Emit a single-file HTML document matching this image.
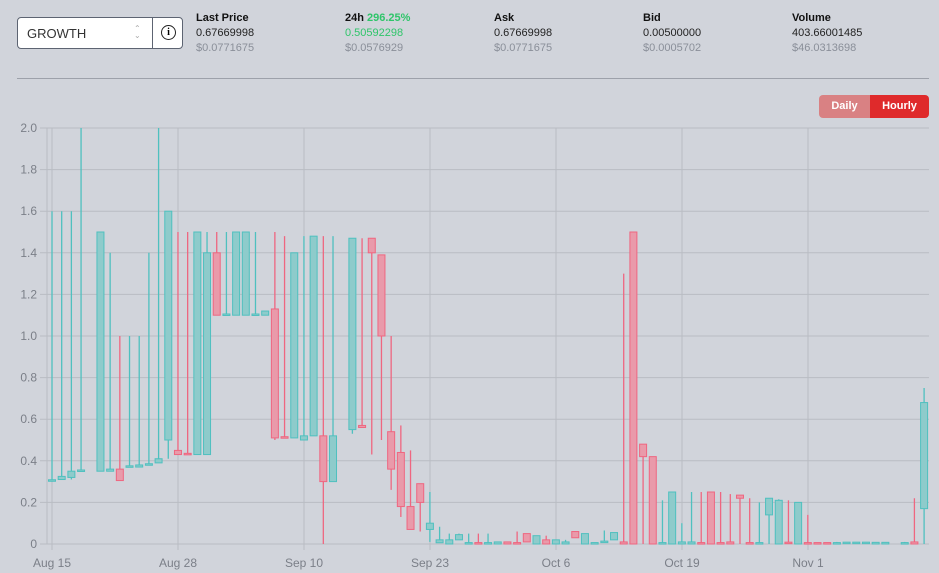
<!DOCTYPE html>
<html><head><meta charset="utf-8"><style>
body{margin:0;width:939px;height:573px;background:#d1d4db;font-family:"Liberation Sans",sans-serif;position:relative;overflow:hidden}
.sel{position:absolute;left:17px;top:17px;width:164px;height:30px;background:#fff;border:1px solid #5d6472;border-radius:4px}
.sel .t{position:absolute;left:9px;top:8px;font-size:13px;color:#333}
.sel .d{position:absolute;left:134px;top:0;width:1px;height:30px;background:#5d6472}
.sel .i{position:absolute;left:143px;top:7px;width:13px;height:13px;border:1.5px solid #222;border-radius:50%;font-size:10px;font-weight:bold;text-align:center;line-height:13px;font-family:"Liberation Serif",serif}
.sel .a{position:absolute;left:116px;top:7px;font-size:8px;color:#aaa;line-height:7px}
.st{position:absolute;top:11px;font-size:11px;line-height:15px}
.st b{color:#111}.st .v{color:#222}.st .g{color:#8a8f99}
.hr{position:absolute;left:17px;top:78px;width:912px;height:1px;background:#9da1aa}
.btn{position:absolute;top:95px;height:23px;color:#fff;font-size:11px;font-weight:bold;line-height:23px;text-align:center}
</style></head><body>
<div class="sel"><span class="t">GROWTH</span><span class="a">⌃<br>⌄</span><div class="d"></div><div class="i">i</div></div>
<div class="st" style="left:196px"><b>Last Price</b><br><span class="v">0.67669998</span><br><span class="g">$0.0771675</span></div>
<div class="st" style="left:345px"><b>24h <span style="color:#2fc56a">296.25%</span></b><br><span style="color:#2fc56a">0.50592298</span><br><span class="g">$0.0576929</span></div>
<div class="st" style="left:494px"><b>Ask</b><br><span class="v">0.67669998</span><br><span class="g">$0.0771675</span></div>
<div class="st" style="left:643px"><b>Bid</b><br><span class="v">0.00500000</span><br><span class="g">$0.0005702</span></div>
<div class="st" style="left:792px"><b>Volume</b><br><span class="v">403.66001485</span><br><span class="g">$46.0313698</span></div>
<div class="hr"></div>
<div class="btn" style="left:819px;width:51px;background:#d98183;border-radius:4px 0 0 4px">Daily</div>
<div class="btn" style="left:870px;width:59px;background:#df2a2b;border-radius:0 4px 4px 0">Hourly</div>
<svg id="c" width="939" height="573" style="position:absolute;left:0;top:0"></svg>
<script>
var d=[[.3,.305,1.6,.3],[.31,.325,1.6,.31],[.32,.35,1.6,.31],[.35,.352,2,.35],null,[.35,1.5,1.5,.35],[.35,.36,1.4,.35],[.36,.305,1,.305],[.37,.372,1,.37],[.37,.38,1,.37],[.38,.382,1.4,.38],[.39,.41,2,.39],[.5,1.6,1.6,.41],[.45,.43,1.5,.43],[.432,.43,1.5,.43],[.43,1.5,1.5,.43],[.43,1.4,1.5,.43],[1.4,1.1,1.5,1.1],[1.1,1.102,1.5,1.1],[1.1,1.5,1.5,1.1],[1.1,1.5,1.5,1.1],[1.1,1.102,1.5,1.1],[1.1,1.12,1.12,1.1],[1.13,.51,1.5,.5],[.512,.51,1.48,.51],[.51,1.4,1.4,.51],[.5,.52,1.48,.5],[.52,1.48,1.48,.52],[.52,.3,1.48,0],[.3,.52,1.48,.3],null,[.55,1.47,1.47,.53],[.57,.56,1.47,.56],[1.47,1.4,1.47,.43],[1.39,1,1.39,.5],[.54,.36,1,.26],[.44,.18,.57,.13],[.18,.07,.45,.07],[.29,.2,.29,.06],[.07,.1,.25,.01],
[.006,.02,.083,.006],[0,.02,.05,0],[.02,.045,.05,.02],[0,.003,.05,0],[.003,0,.05,0],[0,.003,.05,0],[0,.01,.01,0],[.01,0,.01,0],[.003,0,.06,0],[.05,.01,.05,.01],[0,.04,.04,0],[.02,0,.04,0],[0,.02,.02,0],[0,.01,.02,0],[.06,.03,.06,.03],[0,.05,.05,0],[0,.003,.003,0],[.005,.01,.065,.005],[.02,.055,.055,.02],[.01,0,1.3,0],[1.5,0,1.5,0],[.48,.42,.48,0],[.42,0,.42,0],[0,.003,.21,0],[0,.25,.25,0],[0,.01,.1,0],[0,.01,.25,0],[.003,0,.25,0],[.25,0,.25,0],[.003,0,.25,0],[.01,0,.24,0],[.235,.22,.235,0],[.003,0,.22,0],[0,.003,.2,0],[.14,.22,.22,0],[0,.21,.215,0],[.005,0,.21,0],[0,.2,.2,0],[.003,0,.14,0],[.003,0,.003,0],[.003,0,.003,0],[0,.003,.01,0],[0,.005,.005,0],[0,.005,.005,0],[0,.005,.005,0],[0,.008,.008,0],[0,.008,.008,0],null,[0,.003,.01,0],[.01,0,.22,0],[.17,.68,.75,0]];
var s='',Y=function(p){return 544-p*208};
for(var k=0;k<=10;k++){var y=Y(k*.2);s+='<line x1="40" x2="929" y1="'+y+'" y2="'+y+'" stroke="#b9bcc3" stroke-width="1"/>';
s+='<text x="37" y="'+(y+4)+'" text-anchor="end" font-size="12" fill="#7b7f88" font-family="Liberation Sans">'+(k==0?'0':(k*.2).toFixed(1))+'</text>';}
var L=['Aug 15','Aug 28','Sep 10','Sep 23','Oct 6','Oct 19','Nov 1'];
for(var k=0;k<7;k++){var x=52+126*k;s+='<line x1="'+x+'" x2="'+x+'" y1="128" y2="550" stroke="#b9bcc3"/>';
s+='<text x="'+x+'" y="567" text-anchor="middle" font-size="12" fill="#7b7f88" font-family="Liberation Sans">'+L[k]+'</text>';}
s+='<line x1="47" x2="47" y1="128" y2="544" stroke="#b9bcc3"/>';
for(var i=0;i<d.length;i++){if(!d[i])continue;var c=d[i],x=52+9.69*i,up=c[1]>=c[0];
var st=up?'#4fc0bf':'#ef6680',fi=up?'#8ecbcb':'#e99aaa';
s+='<line x1="'+x+'" x2="'+x+'" y1="'+Y(c[2])+'" y2="'+Y(c[3])+'" stroke="'+st+'" stroke-width="1.3"/>';
var t=Y(Math.max(c[0],c[1])),b=Y(Math.min(c[0],c[1]));if(b-t<1.5){t-=0.8;b=t+1.5;}
s+='<rect x="'+(x-3.5)+'" y="'+t+'" width="7" height="'+(b-t)+'" fill="'+fi+'" stroke="'+st+'" stroke-width="1"/>';}
document.getElementById('c').innerHTML=s;
</script>
</body></html>
